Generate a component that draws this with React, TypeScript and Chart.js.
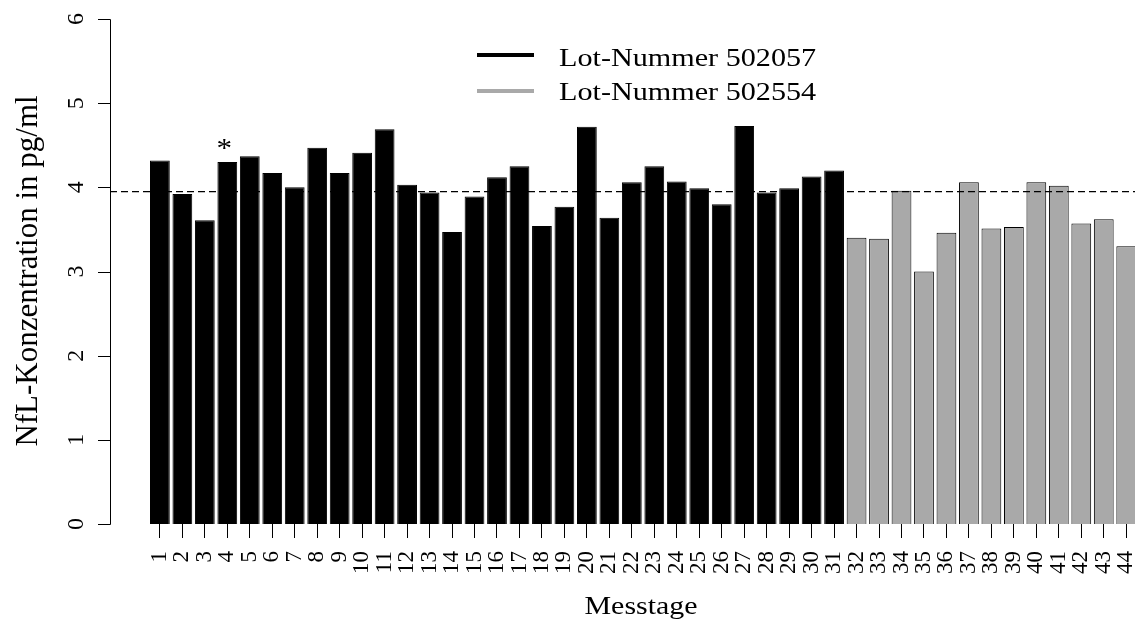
import { useEffect, useRef } from 'react';
import { Chart, registerables } from 'chart.js';

Chart.register(...registerables);

// Measurement days per lot
const lot1Days = [1, 2, 3, 4, 5, 6, 7, 8, 9, 10, 11, 12, 13, 14, 15, 16, 17, 18, 19, 20, 21, 22, 23, 24, 25, 26, 27, 28, 29, 30, 31];
const lot2Days = [32, 33, 34, 35, 36, 37, 38, 39, 40, 41, 42, 43, 44];

// NfL concentration (pg/ml) per measurement day
const lot1Values = [4.32, 3.92, 3.61, 4.30, 4.37, 4.17, 4.00, 4.47, 4.17, 4.41, 4.69, 4.03, 3.94, 3.47, 3.89, 4.12, 4.25, 3.54, 3.77, 4.72, 3.64, 4.06, 4.25, 4.07, 3.99, 3.80, 4.73, 3.94, 3.99, 4.13, 4.20];
const lot2Values = [3.40, 3.39, 3.96, 3.00, 3.46, 4.06, 3.51, 3.53, 4.06, 4.02, 3.57, 3.62, 3.30];

const lotLabels = ['Lot-Nummer 502057', 'Lot-Nummer 502554'];
const lotColors = ['#000000', '#a9a9a9'];

// Overall level shown as dashed reference line
const referenceLevel = 3.95;
// Days marked with an asterisk
const markedDays = [4];

const yTicks = [0, 1, 2, 3, 4, 5, 6];
const xTitle = 'Messtage';
const yTitle = 'NfL-Konzentration in pg/ml';

const SERIF = "'Liberation Serif', 'Times New Roman', serif";

function drawText(
  ctx: CanvasRenderingContext2D,
  text: string,
  x: number,
  y: number,
  size: number,
  align: CanvasTextAlign,
  sx = 1,
  rotate = 0
) {
  ctx.save();
  ctx.translate(x, y);
  if (rotate) ctx.rotate(rotate);
  ctx.scale(sx, 1);
  ctx.font = `${size}px ${SERIF}`;
  ctx.fillStyle = '#000';
  ctx.textAlign = align;
  ctx.textBaseline = 'alphabetic';
  ctx.fillText(text, 0, 0);
  ctx.restore();
}

const decorations = {
  id: 'decorations',
  afterDatasetsDraw(chart: any) {
    const { ctx, chartArea, scales } = chart;
    const xs = scales.x;
    const ys = scales.y;

    // dashed reference line
    const yRef = ys.getPixelForValue(referenceLevel);
    ctx.save();
    ctx.strokeStyle = '#000';
    ctx.lineWidth = 1.2;
    ctx.setLineDash([7, 4]);
    ctx.beginPath();
    ctx.moveTo(chartArea.left, yRef);
    ctx.lineTo(chartArea.right, yRef);
    ctx.stroke();
    ctx.restore();

    // asterisks above marked bars
    const allDays = [...lot1Days, ...lot2Days];
    const allValues = [...lot1Values, ...lot2Values];
    markedDays.forEach((d) => {
      const i = allDays.indexOf(d);
      if (i < 0) return;
      const px = xs.getPixelForValue(d) - 3;
      const py = ys.getPixelForValue(allValues[i]) - 5;
      drawText(ctx, '*', px, py, 27, 'center', 1.15);
    });
  },
  afterDraw(chart: any) {
    const { ctx, chartArea, scales } = chart;
    const ys = scales.y;
    const axisX = chartArea.left;

    // y axis
    ctx.save();
    ctx.strokeStyle = '#000';
    ctx.lineWidth = 1;
    ctx.beginPath();
    const yTop = Math.round(ys.getPixelForValue(yTicks[yTicks.length - 1])) + 0.5;
    const yBot = Math.round(ys.getPixelForValue(yTicks[0])) + 0.5;
    ctx.moveTo(axisX + 0.5, yTop);
    ctx.lineTo(axisX + 0.5, yBot);
    yTicks.forEach((t) => {
      const py = Math.round(ys.getPixelForValue(t)) + 0.5;
      ctx.moveTo(axisX + 0.5, py);
      ctx.lineTo(axisX - 12, py);
    });
    ctx.stroke();
    ctx.restore();

    yTicks.forEach((t) => {
      const py = ys.getPixelForValue(t);
      drawText(ctx, String(t), 83, py, 24, 'center', 1, -Math.PI / 2);
    });

    // axis titles
    drawText(ctx, yTitle, 37, 271, 31, 'center', 1, -Math.PI / 2);
    drawText(ctx, xTitle, 641, 614, 26, 'center', 1.15);

    // legend
    const legendLineX0 = 477;
    const legendLineX1 = 534;
    const legendTextX = 559;
    const rows = [
      { lineY: 55, baseY: 65.5 },
      { lineY: 91, baseY: 100 },
    ];
    rows.forEach((r, i) => {
      ctx.save();
      ctx.strokeStyle = lotColors[i];
      ctx.lineWidth = 4;
      ctx.beginPath();
      ctx.moveTo(legendLineX0, r.lineY);
      ctx.lineTo(legendLineX1, r.lineY);
      ctx.stroke();
      ctx.restore();
      drawText(ctx, lotLabels[i], legendTextX, r.baseY, 26, 'left', 1.16);
    });
  },
};

export default function App() {
  const canvasRef = useRef<HTMLCanvasElement | null>(null);

  useEffect(() => {
    const canvas = canvasRef.current;
    if (!canvas) return;
    Chart.defaults.color = '#000';

    const chart = new Chart(canvas, {
      type: 'bar',
      data: {
        datasets: [
          {
            label: lotLabels[0],
            data: lot1Days.map((d, i) => ({ x: d, y: lot1Values[i] })),
            backgroundColor: lotColors[0],
            borderColor: '#000',
            borderWidth: 1,
            grouped: false,
            barPercentage: 0.88,
            categoryPercentage: 1,
          } as any,
          {
            label: lotLabels[1],
            data: lot2Days.map((d, i) => ({ x: d, y: lot2Values[i] })),
            backgroundColor: lotColors[1],
            borderColor: '#000',
            borderWidth: 1,
            grouped: false,
            barPercentage: 0.88,
            categoryPercentage: 1,
          } as any,
        ],
      },
      options: {
        responsive: false,
        animation: false,
        devicePixelRatio: 1,
        layout: { padding: { left: 110, top: 19, right: 0, bottom: 0 } },
        plugins: {
          legend: { display: false },
          tooltip: { enabled: false },
        },
        scales: {
          x: {
            type: 'linear',
            offset: false,
            min: -1.22,
            max: 44.39,
            border: { display: false },
            grid: {
              display: true,
              offset: false,
              drawOnChartArea: false,
              drawTicks: true,
              tickLength: 14,
              color: '#000',
              lineWidth: 1,
            },
            ticks: {
              autoSkip: false,
              minRotation: 90,
              maxRotation: 90,
              padding: 13,
              color: '#000',
              font: { family: SERIF, size: 23 },
              callback: (v: any) => String(v),
            },
            afterBuildTicks: (scale: any) => {
              scale.ticks = [...lot1Days, ...lot2Days].map((d) => ({ value: d }));
            },
            afterFit: (scale: any) => {
              scale.height = 97;
              scale.paddingLeft = 0;
              scale.paddingRight = 0;
            },
          } as any,
          y: {
            display: false,
            min: 0,
            max: 6,
          },
        },
      },
      plugins: [decorations],
    });

    return () => chart.destroy();
  }, []);

  return (
    <div style={{ position: 'absolute', left: 0, top: 0, width: 1135, height: 621, background: '#fff' }}>
      <canvas ref={canvasRef} width={1135} height={621} />
    </div>
  );
}
